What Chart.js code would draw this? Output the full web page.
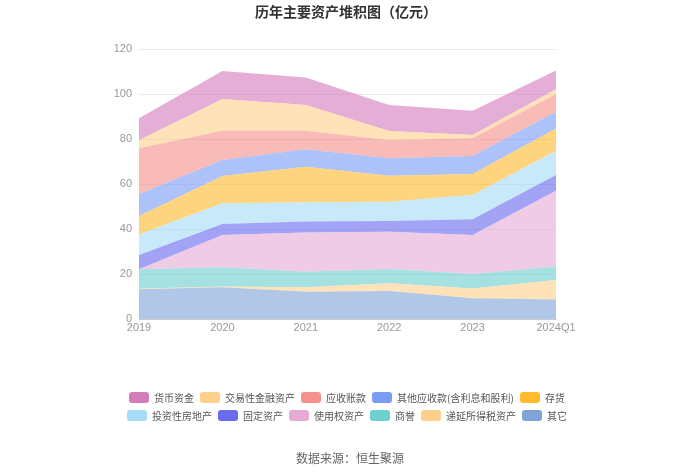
<!DOCTYPE html>
<html><head><meta charset="utf-8">
<script src="https://cdn.jsdelivr.net/npm/chart.js@4/dist/chart.umd.min.js"></script>
<style>
html,body{margin:0;padding:0;background:#fff;}
#wrap{position:relative;width:700px;height:473px;font-family:"Noto Sans CJK SC","Noto Sans",sans-serif;}
#c{position:absolute;left:0;top:0;}
#title{position:absolute;left:0;top:1px;width:692px;text-align:center;font-size:14px;font-weight:bold;color:#333;}
#legend{position:absolute;left:0;top:388px;width:694px;}
.row{display:flex;justify-content:center;gap:6px;height:18px;align-items:center;}
.item{display:flex;align-items:center;font-size:10px;color:#555;white-space:nowrap;}
.box{width:20px;height:11px;border-radius:3px;margin-right:5px;}
#source{position:absolute;left:0;top:449px;width:700px;text-align:center;font-size:12px;color:#666;}
</style></head>
<body><div id="wrap"><canvas id="c" width="700" height="473"></canvas>
<div id="title">历年主要资产堆积图（亿元）</div>
<div id="legend"></div>
<div id="source">数据来源：恒生聚源</div></div>
<script>
const categories = ['2019','2020','2021','2022','2023','2024Q1'];
const yTicks = [0,20,40,60,80,100,120];
// series (bottom to top of stack)
const qita      = [13.2, 14.1, 12.1, 12.4, 9.2, 8.7];   // 其它
const diyan     = [0.3, 0.3, 2.0, 3.5, 4.4, 8.6];       // 递延所得税资产
const shangyu   = [8.6, 8.6, 6.9, 6.3, 6.4, 6.0];       // 商誉
const shiyong   = [0.0, 14.3, 17.4, 16.6, 17.3, 33.7];  // 使用权资产
const guding    = [6.3, 4.9, 4.9, 4.8, 7.0, 7.0];       // 固定资产
const touzi     = [9.2, 9.2, 8.6, 8.5, 10.8, 10.8];     // 投资性房地产
const cunhuo    = [8.2, 12.2, 15.8, 11.6, 9.3, 9.9];    // 存货
const qitaYs    = [9.8, 7.1, 7.7, 7.7, 8.0, 7.4];       // 其他应收款
const yingshou  = [20.3, 13.0, 8.3, 8.2, 7.9, 7.9];     // 应收账款
const jiaoyi    = [3.6, 14.1, 11.4, 4.0, 1.5, 2.1];     // 交易性金融资产
const huobi     = [9.7, 12.4, 12.2, 11.5, 10.8, 8.3];   // 货币资金

const seriesNames = ['其它','递延所得税资产','商誉','使用权资产','固定资产','投资性房地产','存货','其他应收款(含利息和股利)','应收账款','交易性金融资产','货币资金'];
const seriesData = [qita, diyan, shangyu, shiyong, guding, touzi, cunhuo, qitaYs, yingshou, jiaoyi, huobi];
const seriesColors = ['#7fa5d8','#ffd08a','#6dcfcf','#e5abd5','#6b6bf0','#a5dcf7','#ffba2e','#7b9cf5','#f6918a','#ffd08a','#d57cbd'];

function hexA(h,a){const n=parseInt(h.slice(1),16);return `rgba(${n>>16&255},${n>>8&255},${n&255},${a})`;}

const datasets = seriesNames.map((name,i)=>({
  label:name, data:seriesData[i],
  backgroundColor:hexA(seriesColors[i],0.62),
  borderColor:'rgba(0,0,0,0)', borderWidth:0,
  fill: i===0 ? 'origin' : '-1',
  pointRadius:0, tension:0
}));

new Chart(document.getElementById('c'),{
  type:'line',
  data:{labels:categories,datasets},
  options:{
    responsive:false, animation:false,
    layout:{padding:{left:0,right:144,top:49,bottom:124}},
    plugins:{legend:{display:false},tooltip:{enabled:false}},
    scales:{
      x:{offset:false,
        grid:{display:false,drawTicks:true,tickLength:4,color:'#ccc'},
        border:{display:true,color:'#ccc'},
        ticks:{color:'#999',font:{size:11},padding:-2,maxRotation:0,autoSkip:false},
        afterFit:s=>{s.height=30;}
      },
      y:{stacked:true,min:0,max:120,
        afterBuildTicks:s=>{s.ticks=yTicks.map(v=>({value:v}));},
        grid:{color:'#e8e8e8',drawTicks:false},
        border:{display:false},
        ticks:{color:'#999',font:{size:11},padding:7},
        afterFit:s=>{s.width=139;}
      }
    }
  }
});

// HTML legend, top row first
const legendOrder = [[10,9,8,7,6],[5,4,3,2,1,0]];
const lg = document.getElementById('legend');
legendOrder.forEach(r=>{
  const row=document.createElement('div');row.className='row';
  r.forEach(i=>{
    const it=document.createElement('div');it.className='item';
    const b=document.createElement('span');b.className='box';b.style.background=seriesColors[i];
    it.appendChild(b);it.appendChild(document.createTextNode(seriesNames[i]));
    row.appendChild(it);
  });
  lg.appendChild(row);
});
</script></body></html>
